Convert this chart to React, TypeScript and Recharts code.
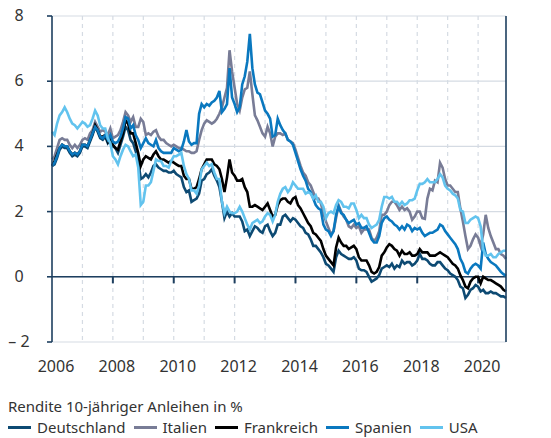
import React from "react";
import {
  LineChart,
  Line,
  XAxis,
  YAxis,
  CartesianGrid,
  ReferenceLine,
} from "recharts";

// monatliche Renditen, Jan 2006 bis Dez 2020 (je 12 Werte pro Jahr)
const START_YEAR = 2006;

const deutschland = [
  3.4, 3.45, 3.65, 3.9, 4.0, 3.95, 3.95, 3.8, 3.7, 3.75, 3.7, 3.8,
  4.0, 4.0, 3.95, 4.15, 4.35, 4.6, 4.45, 4.25, 4.2, 4.3, 4.1, 4.2,
  4.0, 3.95, 3.8, 4.05, 4.3, 4.6, 4.5, 4.2, 4.1, 3.85, 3.55, 3.0,
  3.05, 3.15, 3.05, 3.2, 3.4, 3.45, 3.35, 3.3, 3.25, 3.25, 3.2, 3.2,
  3.25, 3.15, 3.1, 3.05, 2.75, 2.6, 2.65, 2.3, 2.35, 2.4, 2.55, 2.95,
  3.0, 3.15, 3.2, 3.3, 3.1, 2.95, 2.75, 2.3, 1.8, 2.0, 1.85, 1.95,
  1.85, 1.85, 1.85, 1.7, 1.4, 1.45, 1.25, 1.4, 1.55, 1.5, 1.4, 1.35,
  1.55, 1.6, 1.4, 1.25, 1.35, 1.6, 1.6, 1.85, 1.9, 1.8, 1.7, 1.8,
  1.75, 1.65, 1.55, 1.5, 1.35, 1.3, 1.15, 0.95, 0.95, 0.85, 0.75, 0.6,
  0.4, 0.35, 0.25, 0.15, 0.6, 0.8, 0.7, 0.65, 0.6, 0.55, 0.55, 0.6,
  0.5, 0.25, 0.2, 0.2, 0.15, 0.0, -0.15, -0.1, -0.05, 0.05, 0.25, 0.3,
  0.35, 0.3, 0.4, 0.25, 0.35, 0.3, 0.5, 0.4, 0.45, 0.45, 0.35, 0.4,
  0.5, 0.7, 0.55, 0.55, 0.5, 0.4, 0.35, 0.35, 0.45, 0.45, 0.35, 0.25,
  0.2, 0.1, 0.05, 0.0, -0.1, -0.3, -0.35, -0.65, -0.55, -0.4, -0.35, -0.25,
  -0.3, -0.45, -0.4, -0.5, -0.5, -0.45, -0.5, -0.5, -0.55, -0.6, -0.6, -0.65,
];

const italien = [
  3.6, 3.7, 3.95, 4.2, 4.25, 4.2, 4.2, 4.05, 3.95, 4.05, 3.95, 4.05,
  4.2, 4.25, 4.2, 4.4, 4.5, 4.75, 4.6, 4.45, 4.5, 4.45, 4.35, 4.55,
  4.25, 4.3, 4.35, 4.5, 4.75, 5.05, 4.95, 4.75, 4.9, 4.6, 4.6, 4.85,
  4.75, 4.35, 4.4, 4.35, 4.45, 4.5, 4.3, 4.2, 4.2, 4.1, 4.05, 4.0,
  4.05, 4.0, 3.95, 3.95, 3.9, 3.85, 3.85, 3.8, 3.8, 3.85, 4.2, 4.5,
  4.7, 4.8, 4.75, 4.7, 4.75, 4.85, 5.0, 5.2, 5.5, 5.8, 6.95, 6.3,
  5.8, 5.3, 5.1, 5.5, 5.75, 5.8, 6.3, 5.6, 4.95, 4.8, 4.6, 4.4,
  4.3, 4.6, 4.4, 4.0, 4.3, 4.4, 4.4, 4.35, 4.4, 4.2, 4.15, 4.1,
  3.9, 3.65, 3.4, 3.2, 3.1, 2.9, 2.8, 2.6, 2.4, 2.4, 2.25, 1.95,
  1.7, 1.5, 1.3, 1.4, 1.8, 2.2, 2.0, 1.85, 1.75, 1.55, 1.5, 1.6,
  1.5, 1.55, 1.35, 1.45, 1.45, 1.45, 1.2, 1.1, 1.2, 1.4, 1.9, 1.9,
  2.0, 2.2, 2.3, 2.3, 2.2, 2.05, 2.15, 2.05, 2.1, 2.0, 1.75, 1.85,
  2.0, 2.0, 1.8, 1.78, 2.4, 2.7, 2.65, 2.95, 2.9, 3.5, 3.35, 3.0,
  2.8, 2.8, 2.7, 2.6, 2.6, 2.1, 1.7, 1.25, 0.85, 0.95, 1.15, 1.3,
  1.2, 0.95, 1.3, 1.9, 1.5, 1.25, 1.05, 0.85, 0.85, 0.7, 0.65, 0.55,
];

const frankreich = [
  3.4, 3.55, 3.75, 3.95, 4.05, 4.0, 4.0, 3.85, 3.75, 3.8, 3.75, 3.85,
  4.05, 4.05, 4.0, 4.2, 4.4, 4.65, 4.5, 4.3, 4.3, 4.35, 4.15, 4.3,
  4.05, 3.95, 3.9, 4.15, 4.4, 4.8, 4.7, 4.4, 4.4, 4.1, 3.8, 3.4,
  3.6, 3.7, 3.65, 3.6, 3.75, 3.85, 3.7, 3.6, 3.6, 3.55, 3.5, 3.55,
  3.5, 3.45, 3.4, 3.4, 3.1, 3.0, 3.0, 2.7, 2.7, 2.75, 3.0, 3.3,
  3.45, 3.6, 3.6, 3.6, 3.45, 3.4, 3.3, 3.0, 2.6, 3.05, 3.6, 3.2,
  3.1, 2.95, 2.95, 3.0, 2.75, 2.6, 2.15, 2.15, 2.2, 2.15, 2.1, 2.05,
  2.15, 2.25, 2.05, 1.85, 1.9, 2.2, 2.35, 2.4, 2.4, 2.3, 2.25, 2.4,
  2.45, 2.2, 2.1, 1.95, 1.8, 1.65, 1.55, 1.35, 1.3, 1.2, 1.1, 0.85,
  0.65, 0.55, 0.45, 0.35, 0.9, 1.2, 1.05, 0.95, 0.95, 0.85, 0.9, 0.95,
  0.85, 0.6, 0.5, 0.5, 0.5, 0.35, 0.15, 0.1, 0.15, 0.3, 0.65, 0.75,
  0.9, 1.0, 0.95, 0.85, 0.8, 0.65, 0.8, 0.7, 0.7, 0.75, 0.65, 0.65,
  0.7, 0.85, 0.75, 0.75, 0.75, 0.65, 0.65, 0.65, 0.7, 0.75, 0.7, 0.65,
  0.6, 0.5, 0.4, 0.35, 0.25, 0.05, -0.1, -0.3, -0.35, -0.15, -0.05, 0.0,
  0.0, -0.2, 0.0, -0.05, -0.1, -0.1, -0.15, -0.2, -0.25, -0.3, -0.4, -0.45,
];

const spanien = [
  3.4, 3.5, 3.7, 3.95, 4.05, 4.0, 4.0, 3.85, 3.75, 3.8, 3.75, 3.85,
  4.05, 4.05, 4.0, 4.2, 4.4, 4.6, 4.5, 4.3, 4.25, 4.35, 4.2, 4.35,
  4.15, 4.1, 4.15, 4.3, 4.55, 4.9, 4.85, 4.55, 4.65, 4.35, 4.2, 3.95,
  4.1, 4.25, 4.1, 4.05, 4.0, 4.2, 3.95, 3.85, 3.8, 3.8, 3.8, 3.8,
  3.95, 3.9, 3.85, 3.9, 4.15, 4.5, 4.15, 4.05, 4.1, 4.1, 5.0, 5.3,
  5.2, 5.3, 5.25, 5.35, 5.4, 5.5, 5.7, 5.05, 5.15, 5.3, 6.4, 5.5,
  5.3, 5.05, 5.2, 5.9, 6.15, 6.6, 7.45, 6.4, 5.9, 5.65, 5.6, 5.35,
  5.1, 5.0, 4.85, 4.3, 4.35, 4.85, 4.65, 4.5, 4.4, 4.2, 4.15, 4.05,
  3.8, 3.55, 3.3, 3.1, 2.95, 2.7, 2.6, 2.4, 2.2, 2.1, 2.05, 1.6,
  1.45, 1.4, 1.25, 1.4, 1.9, 2.15, 1.95, 1.9, 1.75, 1.65, 1.7, 1.75,
  1.6, 1.65, 1.5, 1.5, 1.55, 1.35, 1.15, 1.05, 1.05, 1.25, 1.65, 1.8,
  1.85, 1.75, 1.7, 1.6, 1.55, 1.45, 1.55, 1.45, 1.6, 1.55, 1.4, 1.5,
  1.45, 1.5, 1.35, 1.25, 1.3, 1.35, 1.35, 1.4, 1.45, 1.6, 1.55, 1.4,
  1.3, 1.2, 1.1, 1.0, 0.85, 0.55, 0.4, 0.15, 0.1, 0.25, 0.35, 0.4,
  0.35, 0.25, 1.05, 0.7, 0.55, 0.45, 0.4, 0.35, 0.25, 0.15, 0.08, 0.03,
];

const usa = [
  4.45, 4.35, 4.7, 4.95, 5.05, 5.2, 5.05, 4.85, 4.7, 4.65, 4.55, 4.65,
  4.75, 4.7, 4.6, 4.65, 4.85, 5.1, 4.95, 4.65, 4.55, 4.55, 4.25, 4.1,
  3.7, 3.6, 3.45, 3.7, 3.9, 4.05, 4.0, 3.85, 3.7, 3.75, 3.35, 2.2,
  2.3, 2.8, 2.8, 2.9, 3.25, 3.6, 3.55, 3.55, 3.4, 3.4, 3.35, 3.55,
  3.7, 3.7, 3.75, 3.8, 3.4, 3.15, 3.0, 2.65, 2.65, 2.55, 2.8, 3.3,
  3.4, 3.5, 3.4, 3.45, 3.2, 3.0, 3.0, 2.3, 1.95, 2.15, 2.0, 1.95,
  1.95, 2.0, 2.15, 2.0, 1.8, 1.6, 1.45, 1.65, 1.7, 1.75, 1.65, 1.7,
  1.85, 1.95, 1.9, 1.7, 1.9, 2.3, 2.55, 2.7, 2.75, 2.6, 2.7, 2.9,
  2.8, 2.7, 2.7, 2.7, 2.55, 2.6, 2.55, 2.4, 2.5, 2.3, 2.3, 2.15,
  1.8, 1.95, 2.0, 1.95, 2.2, 2.35, 2.3, 2.15, 2.15, 2.1, 2.25, 2.25,
  2.05, 1.8, 1.9, 1.8, 1.8, 1.6, 1.5, 1.55, 1.6, 1.75, 2.15, 2.45,
  2.45, 2.4, 2.45, 2.3, 2.3, 2.2, 2.3, 2.2, 2.25, 2.35, 2.35, 2.4,
  2.65, 2.85, 2.85, 2.9, 3.0, 2.9, 2.9, 2.9, 3.0, 3.15, 3.05, 2.8,
  2.7, 2.65, 2.55, 2.5, 2.4, 2.05, 2.0, 1.65, 1.65, 1.75, 1.8, 1.85,
  1.8, 1.55, 0.85, 0.65, 0.65, 0.7, 0.6, 0.6, 0.7, 0.75, 0.8, 0.8,
];

const xTicks = [2006, 2008, 2010, 2012, 2014, 2016, 2018, 2020];
const gridYears = [2007, 2008, 2009, 2010, 2011, 2012, 2013, 2014, 2015, 2016, 2017, 2018, 2019, 2020];
const yTicks = [-2, 0, 2, 4, 6, 8];

const NAVY = "#1d3f5f";
const GRID = "#d5dbe3";
const TEXT = "#333333";

const series = [
  { key: "de", name: "Deutschland", color: "#0d4a73", values: deutschland },
  { key: "it", name: "Italien", color: "#787c96", values: italien },
  { key: "fr", name: "Frankreich", color: "#000000", values: frankreich },
  { key: "es", name: "Spanien", color: "#0a78bf", values: spanien },
  { key: "us", name: "USA", color: "#62c3ee", values: usa },
];

const data = deutschland.map((_, i) => {
  const row: Record<string, number> = { t: START_YEAR + i / 12 };
  series.forEach((s) => {
    row[s.key] = s.values[i];
  });
  return row;
});

const X_END = START_YEAR + (deutschland.length - 1) / 12;

function XTick({ x, y, payload }: any) {
  return (
    <text x={x + 4} y={y + 30} textAnchor="middle" fill={TEXT} fontSize={16}>
      {payload.value}
    </text>
  );
}

function LeftTick({ x, y, payload }: any) {
  const v = payload.value;
  const label = v < 0 ? `– ${Math.abs(v)}` : String(v);
  return (
    <text x={x - 28} y={y + 5} textAnchor="middle" fill={TEXT} fontSize={16}>
      {label}
    </text>
  );
}

function RightTick({ x, y, payload }: any) {
  const v = payload.value;
  const label = v < 0 ? `–${Math.abs(v)}` : String(v);
  return (
    <text x={x + 27} y={y + 5} textAnchor="middle" fill={TEXT} fontSize={16}>
      {label}
    </text>
  );
}

export default function App() {
  return (
    <div
      style={{
        position: "absolute",
        left: 0,
        top: 0,
        width: 551,
        height: 438,
        background: "#fff",
        fontFamily: "'Noto Sans', sans-serif",
        overflow: "hidden",
      }}
    >
      <LineChart
        width={551}
        height={380}
        data={data}
        margin={{ top: 16, right: 0, bottom: 0, left: 0 }}
      >
        <CartesianGrid
          yAxisId="l"
          horizontal
          vertical={false}
          stroke={GRID}
          strokeWidth={1.2}
        />
        <CartesianGrid
          yAxisId="l"
          horizontal={false}
          vertical
          verticalValues={gridYears}
          stroke={GRID}
          strokeWidth={1.2}
          strokeDasharray="4 4"
        />
        <XAxis
          dataKey="t"
          type="number"
          domain={[START_YEAR, X_END]}
          ticks={xTicks}
          interval={0}
          axisLine={false}
          tickLine={false}
          tickSize={0}
          tickMargin={0}
          height={38}
          tick={<XTick />}
        />
        <YAxis
          yAxisId="l"
          domain={[-2, 8]}
          ticks={yTicks}
          interval={0}
          width={52}
          tickSize={5}
          tickMargin={0}
          axisLine={{ stroke: NAVY, strokeWidth: 1.6 }}
          tickLine={{ stroke: NAVY, strokeWidth: 1.6 }}
          tick={<LeftTick />}
        />
        <YAxis
          yAxisId="r"
          orientation="right"
          domain={[-2, 8]}
          ticks={yTicks}
          interval={0}
          width={45}
          tickSize={5}
          tickMargin={0}
          axisLine={{ stroke: NAVY, strokeWidth: 1.6 }}
          tickLine={{ stroke: NAVY, strokeWidth: 1.6 }}
          tick={<RightTick />}
        />
        <ReferenceLine yAxisId="l" y={0} stroke={NAVY} strokeWidth={1.6} />
        {xTicks.slice(1).map((yr) => (
          <ReferenceLine
            key={yr}
            yAxisId="l"
            segment={[
              { x: yr, y: 0 },
              { x: yr, y: -0.2 },
            ]}
            stroke={NAVY}
            strokeWidth={2}
          />
        ))}
        {series.map((s) => (
          <Line
            key={s.key}
            yAxisId="l"
            type="linear"
            dataKey={s.key}
            name={s.name}
            stroke={s.color}
            strokeWidth={2.6}
            dot={false}
            isAnimationActive={false}
          />
        ))}
      </LineChart>
      <div
        style={{
          position: "absolute",
          left: 8,
          top: 396,
          fontSize: 15,
          lineHeight: "21px",
          color: TEXT,
          whiteSpace: "nowrap",
        }}
      >
        <div>Rendite 10-jähriger Anleihen in %</div>
        <div style={{ display: "flex", alignItems: "center" }}>
          {series.map((s) => (
            <div
              key={s.key}
              style={{ display: "flex", alignItems: "center", marginRight: 8 }}
            >
              <span
                style={{
                  display: "inline-block",
                  width: 23,
                  height: 2.5,
                  background: s.color,
                  marginRight: 6,
                }}
              />
              <span>{s.name}</span>
            </div>
          ))}
        </div>
      </div>
    </div>
  );
}
